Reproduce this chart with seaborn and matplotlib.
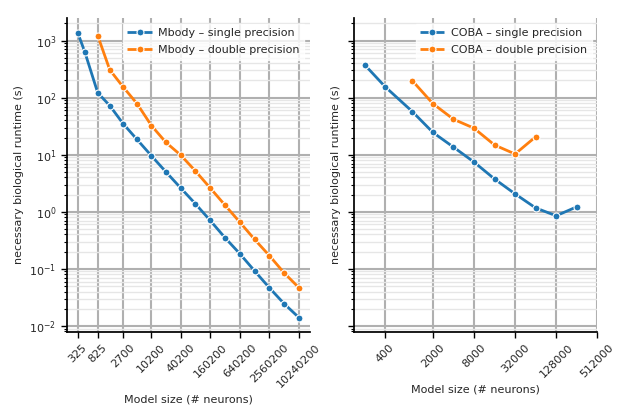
import numpy as np
import pandas as pd
import matplotlib
matplotlib.use("Agg")
import matplotlib.pyplot as plt
import seaborn as sns
from matplotlib.lines import Line2D
from matplotlib.ticker import LogLocator, NullLocator, NullFormatter

# ---- data ----
mbody_sizes = [325, 450, 825, 1450, 2700, 5200, 10200, 20200, 40200, 80200,
               160200, 320200, 640200, 1280200, 2560200, 5120200, 10240200]
mbody_single = [1360, 634, 122, 72.6, 35.2, 18.5, 9.6, 4.99, 2.62, 1.38,
                0.706, 0.352, 0.185, 0.0923, 0.0467, 0.0245, 0.014]
mbody_double_sizes = mbody_sizes[2:]
mbody_double = [1222, 308, 155, 78.6, 32.5, 16.4, 9.87, 5.19, 2.62, 1.31,
                0.66, 0.329, 0.171, 0.085, 0.0467]
mbody_ticks = [325, 825, 2700, 10200, 40200, 160200, 640200, 2560200, 10240200]

coba_sizes = [200, 400, 1000, 2000, 4000, 8000, 16000, 32000, 64000, 128000, 256000]
coba_single = [377, 155, 57, 24.6, 13.6, 7.45, 3.76, 2.06, 1.17, 0.852, 1.22]
coba_double_sizes = [1000, 2000, 4000, 8000, 16000, 32000, 64000]
coba_double = [198, 78.6, 41.9, 29.2, 14.8, 10.3, 20.6]
coba_ticks = [400, 2000, 8000, 32000, 128000, 512000]

mbody_labels = ["Mbody – single precision", "Mbody – double precision"]
coba_labels = ["COBA – single precision", "COBA – double precision"]
colors = ["#1f77b4", "#ff7f0e"]

df_mbody = pd.concat([
    pd.DataFrame({"size": mbody_sizes, "runtime": mbody_single, "series": mbody_labels[0]}),
    pd.DataFrame({"size": mbody_double_sizes, "runtime": mbody_double, "series": mbody_labels[1]}),
])
df_coba = pd.concat([
    pd.DataFrame({"size": coba_sizes, "runtime": coba_single, "series": coba_labels[0]}),
    pd.DataFrame({"size": coba_double_sizes, "runtime": coba_double, "series": coba_labels[1]}),
])

sns.set_theme(style="ticks")
plt.rcParams['font.family'] = ['DejaVu Sans']
plt.rcParams['font.size'] = 8

fig = plt.figure(figsize=(6.3, 4.19), dpi=100)
ax1 = fig.add_axes([0.106, 0.208, 0.386, 0.749])
ax2 = fig.add_axes([0.562, 0.208, 0.386, 0.749], sharey=ax1)

for ax, df, labels, ticks in [(ax1, df_mbody, mbody_labels, mbody_ticks),
                              (ax2, df_coba, coba_labels, coba_ticks)]:
    sns.lineplot(data=df, x="size", y="runtime", hue="series", hue_order=labels,
                 palette=colors, marker="o", markersize=5, markeredgecolor="white",
                 markeredgewidth=0.8, linewidth=2, ax=ax, legend=False, zorder=3)
    ax.set_xscale("log")
    ax.set_yscale("log")
    ax.set_xticks(ticks)
    ax.set_xticklabels([str(t) for t in ticks], rotation=45, fontsize=8)
    ax.xaxis.set_minor_locator(NullLocator())
    ax.yaxis.set_major_locator(LogLocator(base=10))
    ax.yaxis.set_minor_locator(LogLocator(base=10, subs=np.arange(2, 10) * 1.0, numticks=50))
    ax.yaxis.set_minor_formatter(NullFormatter())
    ax.grid(which="major", axis="both", color="#b0b0b0", linewidth=1.5, zorder=0)
    ax.grid(which="minor", axis="y", color="#e6e6e6", linewidth=1.0, zorder=0)
    ax.set_axisbelow(True)
    ax.set_xlabel("Model size (# neurons)", fontsize=8, labelpad=4)
    ax.set_ylabel("necessary biological runtime (s)", fontsize=8)
    ax.tick_params(axis="both", which="major", labelsize=8, length=4, width=1, color="black")
    ax.tick_params(axis="y", which="minor", length=2, width=0.8, color="black")
    for s in ["left", "bottom"]:
        ax.spines[s].set_color("black")
        ax.spines[s].set_linewidth(1.25)
    sns.despine(ax=ax)
    handles = [Line2D([0], [0], color=c, linestyle="--", linewidth=2, marker="o",
                      markersize=5, markeredgecolor="white", markeredgewidth=0.8)
               for c in colors]
    leg = ax.legend(handles, labels, loc="upper right", fontsize=8, frameon=True,
                    framealpha=0.8, edgecolor="white", fancybox=False,
                    borderaxespad=0.5, borderpad=0.4, labelspacing=0.65,
                    handletextpad=0.6, handlelength=2.2)

ax1.set_ylim(10 ** -2.104, 10 ** 3.396)
plt.setp(ax2.get_yticklabels(), visible=False)

fig.savefig("out.png", dpi=100)
